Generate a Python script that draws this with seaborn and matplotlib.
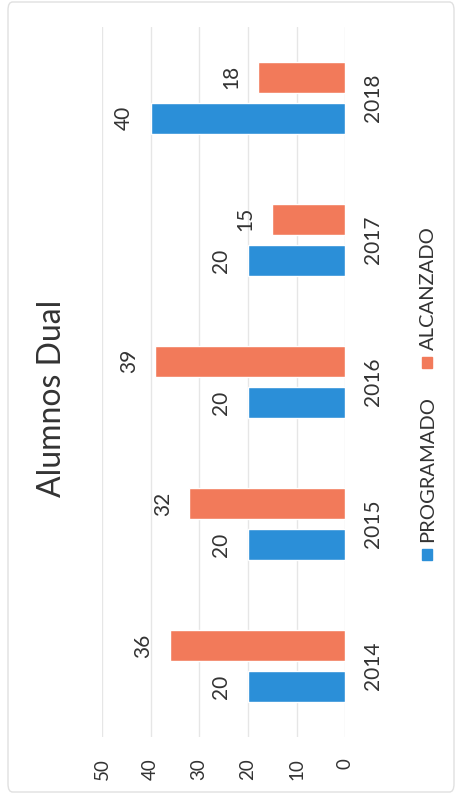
import pandas as pd
import matplotlib.pyplot as plt
import seaborn as sns
from matplotlib.patches import Rectangle, FancyBboxPatch

# datos
years = ["2014", "2015", "2016", "2017", "2018"]
series = ["PROGRAMADO", "ALCANZADO"]
programado = [20, 20, 20, 20, 40]
alcanzado = [36, 32, 39, 15, 18]
title = "Alumnos Dual"

colors = {"PROGRAMADO": "#2b8fd8", "ALCANZADO": "#f27a5a"}

df = pd.DataFrame({
    "year": years * 2,
    "serie": ["PROGRAMADO"] * len(years) + ["ALCANZADO"] * len(years),
    "value": programado + alcanzado,
})

sns.set_style("white")
plt.rcParams['font.family'] = ['Lato', 'DejaVu Sans']
txt = "#333333"

fig = plt.figure(figsize=(4.59, 8.10), dpi=100)
ax = fig.add_axes([0.222, 0.090, 0.530, 0.877])

sns.barplot(data=df, y="year", x="value", hue="serie", order=years,
            hue_order=series, palette=colors, saturation=1, orient="h",
            width=0.58, gap=0.24, legend=False, ax=ax)

# gráfico girado 90°: años abajo->arriba, valores hacia la izquierda
ax.invert_yaxis()
ax.set_ylim(-0.5, 4.5)
ax.set_xlim(0, 50)
ax.invert_xaxis()
ax.set_xticks(range(0, 51, 10))
ax.grid(axis="x", color="#e6e6e6", linewidth=1)
ax.set_axisbelow(True)
for s in ax.spines.values():
    s.set_visible(False)
ax.set_xlabel("")
ax.set_ylabel("")

ax.yaxis.tick_right()
ax.tick_params(axis="y", length=0, pad=13, labelsize=15, labelcolor=txt)
ax.tick_params(axis="x", length=0, pad=15, labelsize=13.5, labelcolor=txt)
for lab in ax.get_yticklabels():
    lab.set_rotation(90)
    lab.set_va("center")
for lab in ax.get_xticklabels():
    lab.set_rotation(90)

for cont in ax.containers:
    ax.bar_label(cont, fmt="%d", rotation=90, padding=12, fontsize=15, color=txt)

# título
fig.text(0.113, 0.508, title, rotation=90, ha="center", va="center",
         fontsize=23, color=txt)

# leyenda
leg_x = 427 / 459
for name, y0 in [("PROGRAMADO", 560), ("ALCANZADO", 368)]:
    fig.patches.append(Rectangle((leg_x - 5 / 459, 1 - y0 / 810), 10 / 459, 11 / 810,
                                 transform=fig.transFigure, color=colors[name]))
    fig.text(leg_x + 1 / 459, 1 - (y0 - 18) / 810, name, rotation=90, ha="center",
             va="bottom", fontsize=14.5, color=txt)

# marco del gráfico
fig.patches.append(FancyBboxPatch((8 / 459, 1 - 792 / 810), 446 / 459, 790 / 810,
                                  boxstyle="round,pad=0,rounding_size=0.01",
                                  transform=fig.transFigure, fill=False,
                                  edgecolor="#e0e0e0", linewidth=1))

fig.savefig("out.png", dpi=100)
